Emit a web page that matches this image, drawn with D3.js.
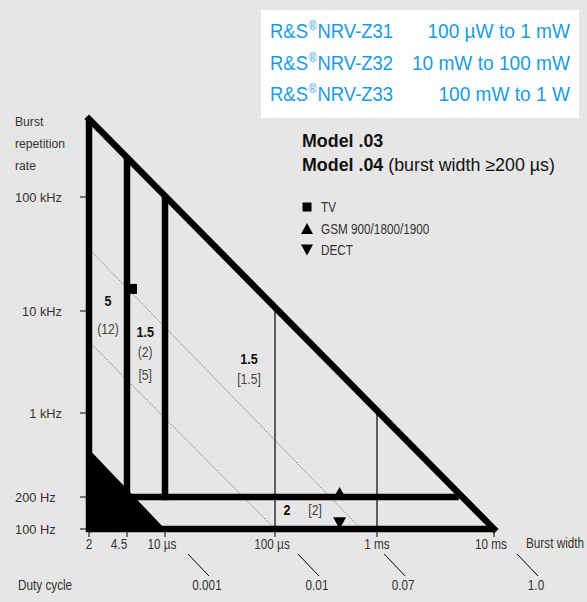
<!DOCTYPE html>
<html><head><meta charset="utf-8">
<script src="https://cdn.jsdelivr.net/npm/d3@7"></script>
<style>
html,body{margin:0;padding:0;background:#e6e6e6;}
svg{display:block;font-family:"Liberation Sans",Arial,sans-serif;}
</style></head><body>
<svg id="c" width="587" height="602"></svg>
<script>
// ---------- data ----------
const xTickValues = [2, 4.5, 10, 100, 1000, 10000];           // burst width, µs
const xTickLabels = ["2", "4.5", "10 µs", "100 µs", "1 ms", "10 ms"];
const yTickValues = [100, 200, 1000, 10000, 100000];          // repetition rate, Hz
const yTickLabels = ["100 Hz", "200 Hz", "1 kHz", "10 kHz", "100 kHz"];
const maxRate = 500000;                                        // top of diagram, Hz
const thickVerticalWidths = [2, 4.5, 10];                      // µs
const thickVerticalBottomRates = [100, 200, 200];              // Hz
const thinVerticalWidths = [100, 1000];                        // µs
const horizontalRates = [100, 200];                            // Hz
const horizontalStartWidths = [2, 4.5];                        // µs
const dashedDutyCycles = [0.01, 0.07];
const shadedDutyCycle = 0.001;
const dutyTickValues = [0.001, 0.01, 0.07, 1.0];
const dutyTickLabels = ["0.001", "0.01", "0.07", "1.0"];
const regionLabelTexts = ["5", "(12)", "1.5", "(2)", "[5]", "1.5", "[1.5]", "2", "[2]"];
const regionLabelBold  = [true, false, true, false, false, true, false, true, false];
const regionLabelWidths = [3.0, 3.0, 6.6, 6.6, 6.6, 58, 58, 131, 247];       // µs
const regionLabelRates  = [11000, 6000, 5600, 3540, 2110, 3020, 1920, 135, 135]; // Hz
const signalNames  = ["TV", "GSM 900/1800/1900", "DECT"];
const signalSymbols = ["square", "up", "down"];
const signalWidths = [5, 430, 430];        // µs
const signalRates  = [15625, 217, 100];    // Hz
const sensorNames  = ["R&S®NRV-Z31", "R&S®NRV-Z32", "R&S®NRV-Z33"];
const sensorRanges = ["100 µW to 1 mW", "10 mW to 100 mW", "100 mW to 1 W"];
const modelTitles  = ["Model .03", "Model .04"];
const modelNotes   = ["", " (burst width ≥200 µs)"];

// ---------- scales ----------
const svg = d3.select("#c");
const x = d3.scaleLog().domain(xTickValues).range([89, 127, 165, 275, 377, 494]);
const y = d3.scaleLog().domain([...yTickValues, maxRate]).range([529, 497, 413, 311, 197, 119]);
const xMin = xTickValues[0], xMax = xTickValues[xTickValues.length - 1];
const rMin = yTickValues[0];
const tickColor = "#333";

// condensed-text helper (horizontal squeeze emulates a condensed face)
function label(px, py, str, o = {}) {
  const g = svg.append("g").attr("transform", `translate(${px},${py}) scale(${o.sx ?? 0.84},1)`);
  const t = g.append("text").attr("text-anchor", o.anchor || "start")
    .attr("font-size", o.size || 14).attr("font-weight", o.weight || "normal")
    .attr("fill", o.fill || tickColor);
  if (o.ls) t.attr("letter-spacing", o.ls);
  if (str !== null) t.text(str);
  return t;
}

// ---------- sensor box ----------
svg.append("rect").attr("x", 261).attr("y", 10).attr("width", 318).attr("height", 108).attr("fill", "#fff");
const blue = "#1a9be6";
sensorNames.forEach((n, i) => {
  const parts = n.split("®");
  const by = 38 + i * 31.5;
  const t = label(270, by, null, { size: 21, fill: blue, sx: 0.88 });
  t.append("tspan").text(parts[0]);
  t.append("tspan").attr("font-size", 12).attr("dy", -8).attr("dx", 1).text("®");
  t.append("tspan").attr("dy", 8).attr("dx", 1).text(parts[1]);
  label(570, by, sensorRanges[i], { size: 21, fill: blue, sx: 0.91, anchor: "end" });
});

// ---------- model titles ----------
modelTitles.forEach((m, i) => {
  const t = label(302, 147 + i * 24, null, { size: 17.5, fill: "#111", sx: 1.02 });
  t.append("tspan").attr("font-weight", "bold").text(m);
  t.append("tspan").text(modelNotes[i]);
});

// ---------- symbol helper ----------
function symbolPath(kind, cx, cy, s) {
  if (kind === "square") return `M${cx - s / 2},${cy - s / 2}h${s}v${s}h${-s}Z`;
  const h = s * 0.9;
  if (kind === "up") return `M${cx - s / 2},${cy + h / 2}L${cx},${cy - h / 2}L${cx + s / 2},${cy + h / 2}Z`;
  return `M${cx - s / 2},${cy - h / 2}L${cx},${cy + h / 2}L${cx + s / 2},${cy - h / 2}Z`;
}

// ---------- legend ----------
signalNames.forEach((n, i) => {
  const cy = 207 + i * 21.5;
  svg.append("path").attr("d", symbolPath(signalSymbols[i], 307, cy, i === 0 ? 9 : 12)).attr("fill", "#000");
  label(321, cy + 5, n, { size: 14 });
});

// ---------- shaded region (duty cycle <= 0.001) ----------
svg.append("path")
  .attr("d", d3.line()([[x(xMin), y(shadedDutyCycle / (xMin * 1e-6))], [x(shadedDutyCycle / rMin * 1e6), y(rMin)], [x(xMin), y(rMin)]]) + "Z")
  .attr("fill", "#000");

// ---------- dashed duty-cycle lines ----------
dashedDutyCycles.forEach(d => {
  svg.append("line")
    .attr("x1", x(xMin)).attr("y1", y(d / (xMin * 1e-6)))
    .attr("x2", x(d / rMin * 1e6)).attr("y2", y(rMin))
    .attr("stroke", "#555").attr("stroke-width", 0.7).attr("stroke-dasharray", "1.5,1.2");
});

// ---------- thin verticals ----------
thinVerticalWidths.forEach(w => {
  svg.append("line").attr("x1", x(w)).attr("x2", x(w))
    .attr("y1", y(1 / (w * 1e-6))).attr("y2", y(rMin))
    .attr("stroke", "#000").attr("stroke-width", 1.2);
});

// ---------- thick boundary lines ----------
const thick = 6.5;
thickVerticalWidths.forEach((w, i) => {
  svg.append("line").attr("x1", x(w)).attr("x2", x(w))
    .attr("y1", y(Math.min(maxRate, 1 / (w * 1e-6)))).attr("y2", y(thickVerticalBottomRates[i]) + thick / 2)
    .attr("stroke", "#000").attr("stroke-width", thick);
});
horizontalRates.forEach((r, i) => {
  svg.append("line").attr("x1", x(horizontalStartWidths[i])).attr("x2", x(1 / r * 1e6))
    .attr("y1", y(r)).attr("y2", y(r))
    .attr("stroke", "#000").attr("stroke-width", thick);
});
// hypotenuse: duty cycle 1.0
svg.append("line").attr("x1", x(xMin)).attr("y1", y(maxRate))
  .attr("x2", x(xMax)).attr("y2", y(rMin))
  .attr("stroke", "#000").attr("stroke-width", thick).attr("stroke-linecap", "square");

// ---------- axes ----------
yTickValues.forEach((v, i) => {
  svg.append("line").attr("x1", 80).attr("x2", 86).attr("y1", y(v)).attr("y2", y(v)).attr("stroke", "#000").attr("stroke-width", 1);
  const right = v >= 1000 && v < 100000;
  label(right ? 62 : 15, y(v) + 4.5, yTickLabels[i], { size: 13.5, sx: 0.95, anchor: right ? "end" : "start" });
});
["Burst", "repetition", "rate"].forEach((t, i) => {
  label(15, 126 + i * 22, t, { size: 13.5, sx: 0.9 });
});
xTickValues.forEach((v, i) => {
  svg.append("line").attr("x1", x(v)).attr("x2", x(v)).attr("y1", 532).attr("y2", 537).attr("stroke", "#000").attr("stroke-width", 1);
  const dx = i === 1 ? -8 : (i === 0 || i === 4 ? 0 : -3);
  label(x(v) + dx, 549, xTickLabels[i], { size: 14, anchor: "middle" });
});
label(526, 548, "Burst width", { size: 14 });
label(18, 590, "Duty cycle", { size: 14 });
dutyTickValues.forEach((d, i) => {
  const xb = x(d / rMin * 1e6);
  svg.append("line").attr("x1", xb + 23).attr("y1", 554).attr("x2", xb + 44).attr("y2", 576)
    .attr("stroke", "#000").attr("stroke-width", 1);
  label(xb + 42, 590, dutyTickLabels[i], { size: 14, anchor: "middle" });
});

// ---------- region labels ----------
regionLabelTexts.forEach((t, i) => {
  label(x(regionLabelWidths[i]), y(regionLabelRates[i]), t, {
    anchor: "middle", size: regionLabelBold[i] ? 15 : 14.5,
    weight: regionLabelBold[i] ? "bold" : "normal",
    fill: regionLabelBold[i] ? "#111" : "#444"
  });
});

// ---------- signal markers ----------
signalNames.forEach((n, i) => {
  const cx = x(signalWidths[i]);
  let cy = y(signalRates[i]);
  const s = i === 0 ? 10 : 13;
  if (signalSymbols[i] === "down") cy -= s * 0.45;
  svg.append("path").attr("d", symbolPath(signalSymbols[i], cx, cy, s)).attr("fill", "#000");
});
</script>
</body></html>
